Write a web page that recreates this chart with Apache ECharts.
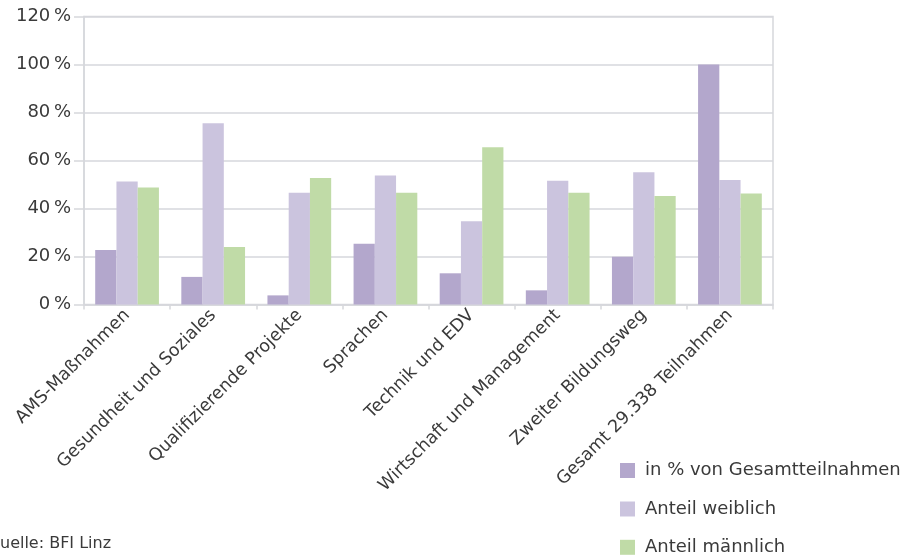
<!DOCTYPE html>
<html>
<head>
<meta charset="utf-8">
<script src="https://cdn.jsdelivr.net/npm/echarts@6/dist/echarts.min.js"></script>
<style>
html,body{margin:0;padding:0;background:#fff;}
#chart{width:909px;height:557px;}
</style>
</head>
<body>
<div id="chart"></div>
<script>
const categories = ["AMS-Maßnahmen","Gesundheit und Soziales","Qualifizierende Projekte","Sprachen","Technik und EDV","Wirtschaft und Management","Zweiter Bildungsweg","Gesamt 29.338 Teilnahmen"];
const seriesNames = ["in % von Gesamtteilnahmen","Anteil weiblich","Anteil männlich"];
const anteilGesamt = [22.7, 11.5, 3.8, 25.3, 13.0, 5.9, 19.9, 100];
const anteilWeiblich = [51.2, 75.5, 46.6, 53.7, 34.7, 51.6, 55.1, 51.9];
const anteilMaennlich = [48.7, 24.0, 52.7, 46.6, 65.5, 46.6, 45.2, 46.2];
const yTicks = {min: 0, max: 120, interval: 20};
const sourceText = "Quelle: BFI Linz";

const FONT = "DejaVu Sans";
const TXT = "#3a3a3a";
const GRID = "#d6d7dc";
const colors = ["#b3a7cc", "#cbc4de", "#c0dba7"];
const legendTops = [461.5, 500, 538.3];

const chart = echarts.init(document.getElementById('chart'), null, {renderer: 'canvas'});
const dataSets = [anteilGesamt, anteilWeiblich, anteilMaennlich];
chart.setOption({
  animation: false,
  backgroundColor: '#ffffff',
  textStyle: {fontFamily: FONT},
  grid: {left: 84, right: 136, top: 16.5, bottom: 252.5, show: true, borderColor: GRID, borderWidth: 1.5, containLabel: false},
  legend: seriesNames.map((n, i) => ({
    orient: 'vertical', left: 620, top: legendTops[i], padding: 0,
    itemWidth: 15, itemHeight: 15,
    icon: 'rect',
    textStyle: {fontFamily: FONT, fontSize: 18, color: TXT, lineHeight: 15, padding: [0, 0, 0, 5]},
    data: [n]
  })),
  xAxis: {
    type: 'category', data: categories,
    axisLine: {lineStyle: {color: GRID, width: 1.5}},
    axisTick: {show: true, length: 5, lineStyle: {color: GRID, width: 1.5}},
    axisLabel: {rotate: 45, margin: 8, fontFamily: FONT, fontSize: 17.5, color: TXT, interval: 0}
  },
  yAxis: {
    type: 'value', min: yTicks.min, max: yTicks.max, interval: yTicks.interval,
    axisLine: {show: true, lineStyle: {color: GRID, width: 1.5}},
    axisTick: {show: true, length: 10, lineStyle: {color: GRID, width: 1.5}},
    splitLine: {lineStyle: {color: GRID, width: 1.5}},
    axisLabel: {
      formatter: '{v|{value}\u2009%}', margin: 13, fontFamily: FONT, fontSize: 18, color: TXT,
      rich: {v: {fontFamily: FONT, fontSize: 18, color: TXT}}
    }
  },
  series: seriesNames.map((n, i) => ({
    name: n, type: 'bar', data: dataSets[i],
    itemStyle: {color: colors[i]},
    barGap: '0%', barCategoryGap: '26%'
  })),
  graphic: [{
    type: 'text', left: -12.6, top: 536,
    style: {text: sourceText, font: '16px "DejaVu Sans"', fill: TXT}
  }]
});
</script>
</body>
</html>
